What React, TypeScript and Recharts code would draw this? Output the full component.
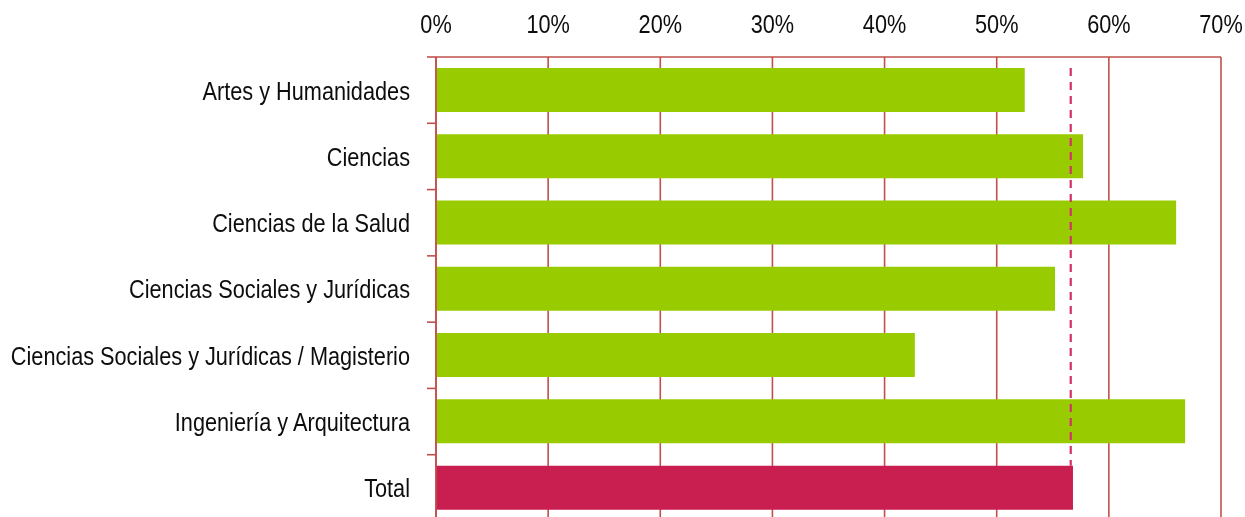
import React from 'react';
import {
  BarChart,
  Bar,
  XAxis,
  YAxis,
  CartesianGrid,
  ReferenceLine,
  Cell,
} from 'recharts';

const categories = [
  'Artes y Humanidades',
  'Ciencias',
  'Ciencias de la Salud',
  'Ciencias Sociales y Jurídicas',
  'Ciencias Sociales y Jurídicas / Magisterio',
  'Ingeniería y Arquitectura',
  'Total',
];
const values = [52.5, 57.7, 66.0, 55.2, 42.7, 66.8, 56.8];
const xTicks = [0, 10, 20, 30, 40, 50, 60, 70];
const averageValue = 56.6;

const data = categories.map((name, i) => ({ name, value: values[i] }));

const GRID = '#C0504D';
const GREEN = '#99CC00';
const TOTAL = '#C81E50';
const DASH = '#D3306A';
const FONT = '"Liberation Sans", Arial, sans-serif';
const NARROW = 0.835;
const GAP_FRAC = 0.165;

function XTick(props: any) {
  const { x, y, payload } = props;
  return (
    <g transform={`translate(${x},${y})`}>
      <text
        transform={`scale(${NARROW},1)`}
        textAnchor="middle"
        fill="#0d0d0d"
        fontSize={26}
        fontFamily={FONT}
      >
        {`${payload.value}%`}
      </text>
    </g>
  );
}

function YTick(props: any) {
  const { x, y, payload, index, visibleTicksCount, tickMargin } = props;
  const half = payload && payload.offset ? payload.offset : 0;
  const axisX = x + (tickMargin ?? 26);
  const isLast = index === (visibleTicksCount ?? categories.length) - 1;
  return (
    <g>
      <line x1={axisX - 9} x2={axisX} y1={y - half} y2={y - half} stroke={GRID} strokeWidth={1.6} />
      {isLast && (
        <line x1={axisX - 9} x2={axisX} y1={y + half} y2={y + half} stroke={GRID} strokeWidth={1.6} />
      )}
      <g transform={`translate(${x},${y})`}>
        <text
          transform={`scale(${NARROW},1)`}
          textAnchor="end"
          dy="0.36em"
          fill="#0d0d0d"
          fontSize={26}
          fontFamily={FONT}
        >
          {payload.value}
        </text>
      </g>
    </g>
  );
}

function AverageShape(props: any) {
  const { x1, x2, y1, y2 } = props;
  const band = (y2 - y1) / (categories.length - 1);
  return (
    <line
      x1={x1}
      x2={x2}
      y1={y1 + band * GAP_FRAC}
      y2={y2 + band * GAP_FRAC}
      stroke={DASH}
      strokeWidth={2.2}
      strokeDasharray="8 6"
    />
  );
}

export default function App() {
  return (
    <div style={{ position: 'fixed', left: 8, top: 8 }}>
      <BarChart
        width={1237}
        height={513}
        data={data}
        layout="vertical"
        margin={{ top: 0, right: 24, bottom: 0, left: 0 }}
        barCategoryGap={`${GAP_FRAC * 100}%`}
      >
        <CartesianGrid vertical horizontal={false} stroke={GRID} strokeWidth={1.6} />
        <XAxis
          type="number"
          orientation="top"
          domain={[0, 70]}
          ticks={xTicks}
          height={49}
          tickLine={false}
          tickSize={0}
          tickMargin={24}
          axisLine={{ stroke: GRID, strokeWidth: 1.6 }}
          tick={<XTick />}
          interval={0}
        />
        <YAxis
          type="category"
          dataKey="name"
          width={428}
          tickLine={false}
          tickSize={0}
          tickMargin={26}
          axisLine={{ stroke: GRID, strokeWidth: 1.6 }}
          tick={<YTick />}
          interval={0}
        />
        <Bar dataKey="value" isAnimationActive={false}>
          {data.map((d) => (
            <Cell key={d.name} fill={d.name === 'Total' ? TOTAL : GREEN} />
          ))}
        </Bar>
        <ReferenceLine
          segment={[
            { x: averageValue, y: categories[0] },
            { x: averageValue, y: categories[categories.length - 1] },
          ]}
          position="start"
          shape={<AverageShape />}
          ifOverflow="visible"
        />
      </BarChart>
    </div>
  );
}
